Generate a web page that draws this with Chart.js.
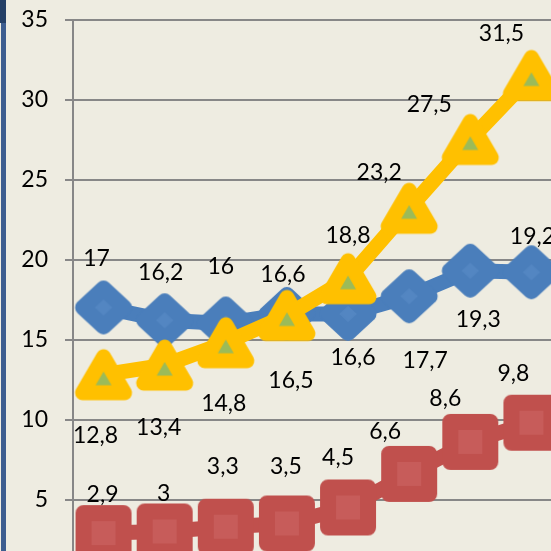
<!DOCTYPE html>
<html><head><meta charset="utf-8">
<script src="https://cdn.jsdelivr.net/npm/chart.js@4/dist/chart.umd.min.js"></script>
<style>
html,body{margin:0;padding:0;width:551px;height:551px;overflow:hidden;background:#eeece1;}
#wrap{position:absolute;left:0;top:0;width:562px;height:600px;}
#stripTop{position:absolute;left:0;top:0;width:6px;height:23px;background:#243f66;}
#strip{position:absolute;left:1px;top:23px;width:5px;height:528px;background:#3d5d8f;}
</style></head>
<body>
<div id="wrap"><canvas id="c" width="562" height="600"></canvas></div>
<div id="stripTop"></div><div id="strip"></div>
<script>
// ---- data ----
const categories = ['1','2','3','4','5','6','7','8'];
const blueValues = [17, 16.2, 16, 16.6, 16.6, 17.7, 19.3, 19.2];
const yellowValues = [12.8, 13.4, 14.8, 16.5, 18.8, 23.2, 27.5, 31.5];
const redValues = [2.9, 3, 3.3, 3.5, 4.5, 6.6, 8.6, 9.8];
const yTickValues = [0, 5, 10, 15, 20, 25, 30, 35];

// ---- label placement (pixel offsets from each point) ----
const blueLabelOffsets = [[-7,-49],[-4,-48],[-5,-57],[-4,-39],[5,44],[16,64],[8,49],[1,-36]];
const yellowLabelOffsets = [[-8,61],[-6,62],[-2,61],[4,65],[0,-43],[-30,-36],[-41,-35],[-30,-42]];
const redLabelOffsets = [[-1,-39],[-1,-38],[-3,-60],[-1,-57],[-10,-50],[-24,-42],[-25,-43],[-18,-49]];

function makeMarker(kind, stroke, fill) {
  const c = document.createElement('canvas');
  c.width = 70; c.height = 70;
  const g = c.getContext('2d');
  g.translate(35, 35);
  g.lineJoin = 'round';
  g.beginPath();
  let lw = 16;
  if (kind === 'diamond') {
    g.moveTo(0, -19); g.lineTo(20.5, 0); g.lineTo(0, 19); g.lineTo(-20.5, 0);
  } else if (kind === 'square') {
    g.rect(-20, -20, 40, 40);
  } else {
    lw = 15;
    g.moveTo(0, -18); g.lineTo(21, 18); g.lineTo(-21, 18);
  }
  g.closePath();
  g.fillStyle = fill; g.fill();
  g.lineWidth = lw; g.strokeStyle = stroke; g.stroke();
  return c;
}

const diamond = makeMarker('diamond', '#4a7ebb', '#5386c2');
const square = makeMarker('square', '#c0504d', '#c75c5a');
const triangle = makeMarker('triangle', '#ffc000', '#9bbb59');

const fmt = v => String(v).replace('.', ',');

const labelPlugin = {
  id: 'pointLabels',
  afterDatasetsDraw(chart) {
    const ctx = chart.ctx;
    ctx.save();
    ctx.font = '23px Lato';
    ctx.fillStyle = '#000000';
    ctx.textAlign = 'center';
    ctx.textBaseline = 'middle';
    chart.data.datasets.forEach((ds, i) => {
      const meta = chart.getDatasetMeta(i);
      meta.data.forEach((pt, j) => {
        const off = ds.labelOffsets[j];
        ctx.fillText(fmt(ds.data[j]), pt.x + off[0], pt.y + off[1]);
      });
    });
    ctx.restore();
  }
};

new Chart(document.getElementById('c'), {
  type: 'line',
  data: {
    labels: categories,
    datasets: [
      { data: blueValues, borderColor: '#4a7ebb', borderWidth: 15, pointStyle: diamond,
        pointRadius: 28, order: 3, labelOffsets: blueLabelOffsets },
      { data: redValues, borderColor: '#c0504d', borderWidth: 15, pointStyle: square,
        pointRadius: 28, order: 2, labelOffsets: redLabelOffsets },
      { data: yellowValues, borderColor: '#ffc000', borderWidth: 15, pointStyle: triangle,
        pointRadius: 28, order: 1, labelOffsets: yellowLabelOffsets }
    ].map(d => Object.assign({ fill: false, tension: 0, borderJoinStyle: 'round',
        borderCapStyle: 'round', clip: false }, d))
  },
  options: {
    responsive: false,
    animation: false,
    events: [],
    layout: { autoPadding: false, padding: { left: 0, top: 19.5, right: 0, bottom: 20.5 } },
    plugins: { legend: { display: false }, tooltip: { enabled: false } },
    scales: {
      x: { type: 'category', offset: true, display: false },
      y: {
        min: 0, max: 35,
        afterBuildTicks: s => { s.ticks = yTickValues.map(v => ({ value: v })); },
        afterFit: s => { s.width = 73; s.paddingTop = 0; s.paddingBottom = 0; },
        ticks: { font: { family: 'Lato', size: 23 }, color: '#000000', padding: 17 },
        grid: { color: '#878787', lineWidth: 2, tickLength: 8, drawTicks: true },
        border: { display: true, color: '#878787', width: 2 }
      }
    }
  },
  plugins: [labelPlugin]
});
</script>
</body></html>
